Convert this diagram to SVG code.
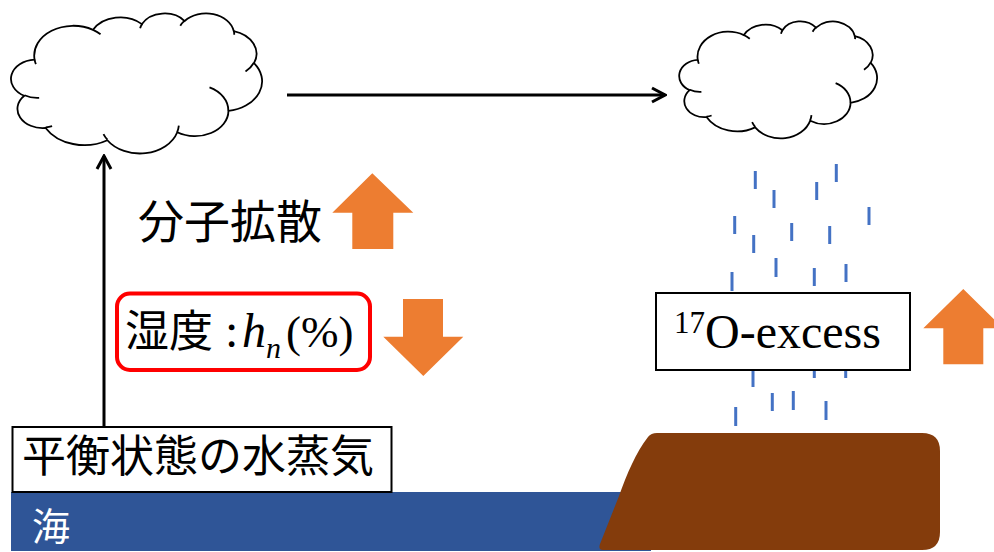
<svg xmlns="http://www.w3.org/2000/svg" xmlns:xlink="http://www.w3.org/1999/xlink" width="994" height="552" viewBox="0 0 994 552">
  <style>
    .cloud-body { fill: #ffffff; stroke: #000000; stroke-width: 1.8; }
    .cloud-fold { fill: none; stroke: #000000; stroke-width: 1.8; }
    .label-box { fill: #ffffff; stroke: #000000; stroke-width: 2; }
    .jp { font-family: "Noto Sans CJK JP", "Noto Sans CJK SC", sans-serif; fill: #000000; }
    .serif { font-family: "Liberation Serif", "Times New Roman", serif; fill: #000000; }
    .rain line { stroke: #4472C4; stroke-width: 3; }
    .trend { fill: #ED7D31; }
    .flow { stroke: #000000; stroke-width: 3; fill: none; }
  </style>
  <defs>
    <!-- cloud outline drawn in a 432 x 432 unit box -->
    <g id="cloud">
      <path class="cloud-body" vector-effect="non-scaling-stroke" d="M39,143.7 A67.53,91.9 0 0 1 140.04,52.01 A53.33,72.67 0 0 1 224.55,34.29 A43.65,59.45 0 0 1 298.32,24.78 A48.57,65.95 0 0 1 383.17,55.74 A53.33,72.73 0 0 1 418.18,154.57 A67.75,92.2 0 0 1 374.04,301.99 A57.85,78.67 0 0 1 285.55,368.09 A67.52,92.15 0 0 1 164.79,392.59 A77.2,105.43 0 0 1 58.09,354.64 A43.6,59.18 0 0 1 21.16,255.44 A43.45,59.45 0 0 1 39,143.7 Z"/>
      <path class="cloud-fold" vector-effect="non-scaling-stroke" d="M46.93,261.77 A43.45,59.45 0 0 1 21.59,253.8 M69.28,348.99 A43.6,59.18 0 0 1 58.21,352.8 M164.78,390.9 A67.52,92.15 0 0 1 158.11,373.5 M288.27,347.51 A67.52,92.15 0 0 1 285.6,366.6 M341.29,229.54 A57.85,78.67 0 0 1 373.77,300.87 M417.98,153.54 A53.33,72.73 0 0 1 403.49,180.31 M383.24,54.26 A48.57,65.95 0 0 1 384,66.9 M290.78,39.52 A48.57,65.95 0 0 1 298.2,23.4 M221.41,47.2 A43.65,59.45 0 0 1 225,33.3 M140,51.92 A67.53,91.9 0 0 1 153,65.4 M41.27,157.89 A67.53,91.9 0 0 1 39,143.7"/>
    </g>
    <marker id="open-arrow" viewBox="-16 -10 18 20" refX="0" refY="0" markerWidth="18" markerHeight="20" orient="auto" markerUnits="userSpaceOnUse">
      <path d="M-13,-7 L0,0 L-13,7" fill="none" stroke="#000000" stroke-width="3"/>
    </marker>
  </defs>

  <!-- ground layers -->
  <g id="sea">
    <rect x="11" y="492" width="640" height="59" fill="#2F5597"/>
    <text class="jp" x="32" y="540" font-size="38" style="fill:#ffffff">海</text>
  </g>
  <g id="land">
    <path d="M657,433 L922,433 Q940,433 940,451 L940,532 Q940,550 922,550 L603,550 Q598,550 600,544 L619,496 C627,474 636,452 648,437 Q651,433 657,433 Z" fill="#843C0C"/>
  </g>

  <!-- falling rain -->
  <g id="rain" class="rain">
    <line x1="755.3" y1="171" x2="755.3" y2="189"/>
    <line x1="774" y1="190" x2="774" y2="208"/>
    <line x1="816.7" y1="182" x2="816.7" y2="200"/>
    <line x1="836.3" y1="164" x2="836.3" y2="182"/>
    <line x1="869" y1="207" x2="869" y2="225"/>
    <line x1="734.7" y1="216" x2="734.7" y2="234"/>
    <line x1="791.7" y1="223" x2="791.7" y2="241"/>
    <line x1="829.7" y1="226" x2="829.7" y2="244"/>
    <line x1="753.7" y1="235" x2="753.7" y2="253"/>
    <line x1="776" y1="258" x2="776" y2="277"/>
    <line x1="814.3" y1="268" x2="814.3" y2="286"/>
    <line x1="846" y1="264" x2="846" y2="282"/>
    <line x1="732" y1="272" x2="732" y2="291"/>
    <line x1="753" y1="369" x2="753" y2="387"/>
    <line x1="814.3" y1="360" x2="814.3" y2="378"/>
    <line x1="845.7" y1="360" x2="845.7" y2="378"/>
    <line x1="772.3" y1="393" x2="772.3" y2="411"/>
    <line x1="793.3" y1="391" x2="793.3" y2="410"/>
    <line x1="826" y1="401" x2="826" y2="420"/>
    <line x1="735.7" y1="407" x2="735.7" y2="426"/>
  </g>

  <!-- connectors -->
  <g id="connectors">
    <line class="flow" x1="104" y1="426" x2="104" y2="156" marker-end="url(#open-arrow)"/>
    <line class="flow" x1="287" y1="95" x2="665" y2="95" marker-end="url(#open-arrow)"/>
  </g>

  <!-- clouds -->
  <g id="cloud-source">
    <use xlink:href="#cloud" href="#cloud" transform="translate(12,13) scale(0.5787,0.32407)"/>
  </g>
  <g id="cloud-rain">
    <use xlink:href="#cloud" href="#cloud" transform="translate(680,21) scale(0.45602,0.27083)"/>
  </g>

  <!-- labels -->
  <g id="vapour">
    <rect class="label-box" x="12.5" y="427" width="379" height="65" stroke-width="1.5"/>
    <text class="jp" x="22" y="472" font-size="44">平衡状態の水蒸気</text>
  </g>

  <g id="diffusion">
    <text class="jp" x="138" y="238" font-size="46">分子拡散</text>
    <polygon class="trend" points="372.3,173.3 413.3,212.7 393.3,212.7 393.3,249 352.3,249 352.3,212.7 332.3,212.7"/>
  </g>

  <g id="humidity">
    <rect x="117" y="293.5" width="253" height="76.5" rx="13" fill="#ffffff" stroke="#FF0000" stroke-width="4"/>
    <text class="jp" x="125" y="347" font-size="44">湿度</text>
    <text class="serif" x="225" y="347" font-size="48">:</text>
    <text class="serif" x="242" y="347" font-size="48" font-style="italic">h</text>
    <text class="serif" x="266" y="358" font-size="30" font-style="italic">n</text>
    <text class="serif" x="286" y="347" font-size="45">(%)</text>
    <polygon class="trend" points="403,299 443,299 443,336.7 463.3,336.7 423.3,376 383.3,336.7 403,336.7"/>
  </g>

  <g id="o17-excess">
    <rect class="label-box" x="656" y="293" width="254" height="77"/>
    <text class="serif" x="674" y="333" font-size="31">17</text>
    <text class="serif" x="705" y="348" font-size="48">O-excess</text>
    <polygon class="trend" points="963.3,289 1003.3,328.3 983.3,328.3 983.3,364.3 943.3,364.3 943.3,328.3 923.3,328.3"/>
  </g>
</svg>
